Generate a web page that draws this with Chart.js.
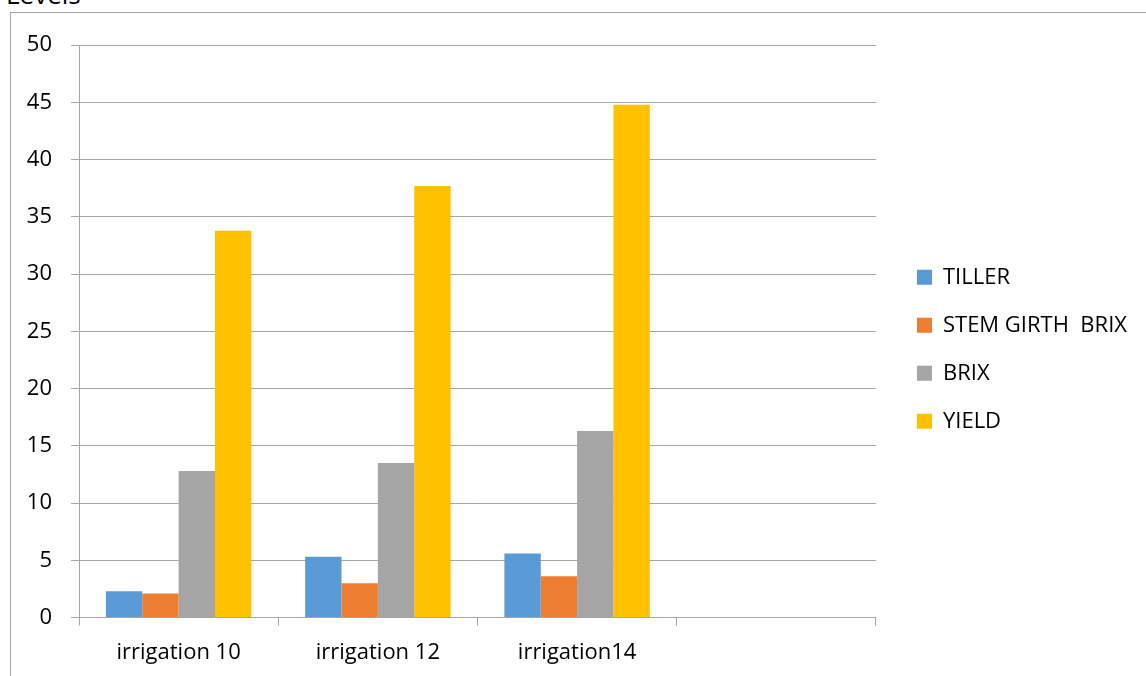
<!DOCTYPE html>
<html>
<head>
<meta charset="utf-8">
<script src="https://cdn.jsdelivr.net/npm/chart.js@4.4.1/dist/chart.umd.min.js"></script>
<style>
	html, body { margin: 0; padding: 0; background: #fff; overflow: hidden; width: 1146px; height: 676px; }
	#frame { position: absolute; left: 10px; top: 12px; width: 1400px; height: 800px; border: 1px solid #a6a6a6; }
	#title { position: absolute; left: 6px; top: -19px; font: 26px "Open Sans"; line-height: 26px; color: #000; }
	#chart { position: absolute; left: 0; top: 0; }
</style>
</head>
<body>
<div id="title">Levels</div>
<div id="frame"><canvas id="chart"></canvas></div>
<script>
const categories = ["irrigation 10", "irrigation 12", "irrigation14", ""];
const tiller = [2.3, 5.3, 5.6, null];
const stemGirthBrix = [2.1, 3.0, 3.6, null];
const brix = [12.8, 13.5, 16.3, null];
const yieldValues = [33.8, 37.7, 44.8, null];
const seriesNames = ["TILLER", "STEM GIRTH  BRIX", "BRIX", "YIELD"];
const yMin = 0;
const yMax = 50;
const yStep = 5;

const fontFamily = "Open Sans";
const fontSize = 22;
const gridColor = "#a6a6a6";

/* legend sits on the right, its first box should start at a fixed x */
const legendPadding = 26;
const legendBox = 15;
const legendLeft = 879;

const buildChart = () => {
	const canvas = document.getElementById("chart");
	const measure = document.createElement("canvas").getContext("2d");
	measure.font = "normal " + fontSize + "px " + fontFamily;
	const longest = Math.max(...seriesNames.map((t) => measure.measureText(t).width));

	canvas.width = Math.ceil(legendLeft + legendPadding + legendBox + fontSize / 2 + longest + 10);
	canvas.height = 664;

	new Chart(canvas, {
		type: "bar",
		data: {
			labels: categories,
			datasets: [
				{ label: seriesNames[0], data: tiller, backgroundColor: "#5b9bd5" },
				{ label: seriesNames[1], data: stemGirthBrix, backgroundColor: "#ed7d31" },
				{ label: seriesNames[2], data: brix, backgroundColor: "#a5a5a5" },
				{ label: seriesNames[3], data: yieldValues, backgroundColor: "#ffc000" }
			]
		},
		options: {
			responsive: false,
			animation: false,
			devicePixelRatio: 1,
			layout: {
				padding: { top: 20, bottom: 11.5, left: 0, right: 0 }
			},
			datasets: {
				bar: {
					categoryPercentage: 0.73,
					barPercentage: 1
				}
			},
			plugins: {
				legend: {
					position: "right",
					maxWidth: 1000,
					labels: {
						boxWidth: legendBox,
						boxHeight: legendBox,
						padding: legendPadding,
						color: "#000",
						font: { family: fontFamily, size: fontSize }
					}
				},
				tooltip: { enabled: false }
			},
			scales: {
				x: {
					afterFit: (scale) => { scale.height = 48; },
					grid: {
						offset: true,
						drawOnChartArea: false,
						tickLength: 8,
						color: gridColor
					},
					border: { color: gridColor },
					ticks: {
						padding: 14,
						color: "#000",
						maxRotation: 0,
						font: { family: fontFamily, size: fontSize }
					}
				},
				topGap: {
					axis: "x",
					position: "top",
					display: true,
					afterFit: (scale) => { scale.height = 9.5; },
					grid: { display: false },
					border: { display: false },
					ticks: { display: false }
				},
				y: {
					min: yMin,
					max: yMax,
					afterFit: (scale) => { scale.width = 68; },
					grid: {
						tickLength: 8,
						color: gridColor
					},
					border: { color: gridColor },
					ticks: {
						stepSize: yStep,
						padding: 19,
						color: "#000",
						font: { family: fontFamily, size: fontSize }
					}
				},
				rightGap: {
					axis: "y",
					position: "right",
					display: true,
					afterFit: (scale) => { scale.width = 15; },
					grid: { display: false },
					border: { display: false },
					ticks: { display: false }
				}
			}
		}
	});
};

document.fonts.load("normal " + fontSize + "px \"" + fontFamily + "\"").then(buildChart, buildChart);
</script>
</body>
</html>
